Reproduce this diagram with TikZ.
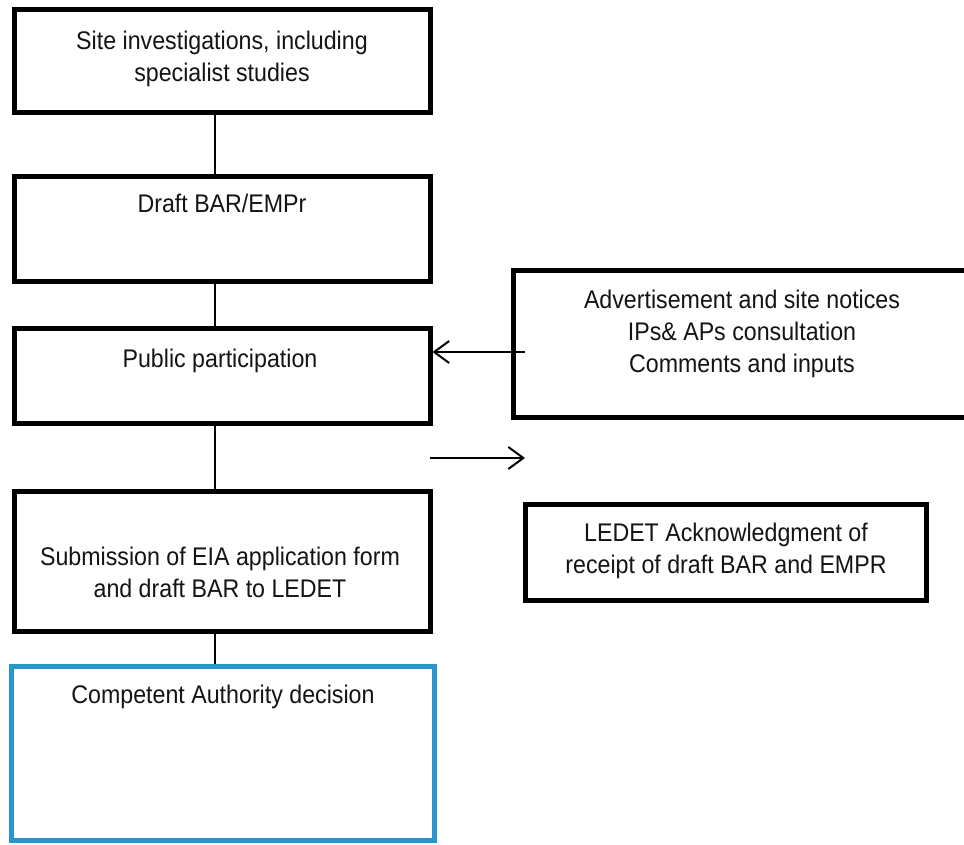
\documentclass[tikz,border=0pt]{standalone}
\usepackage{fontspec}
\setmainfont[FakeStretch=0.91]{Liberation Sans}
\usetikzlibrary{arrows.meta,calc}
\definecolor{frameblue}{RGB}{40,150,205}
\begin{document}
\begin{tikzpicture}[x=1pt,y=-1pt,
  box/.style={draw=black,line width=5pt,rectangle,inner sep=0pt},
  bluebox/.style={draw=frameblue,line width=5pt,rectangle,inner sep=0pt},
  txt/.style={font=\fontsize{25.5pt}{32pt}\selectfont,align=center,inner sep=0pt,text=black!92},
  conn/.style={line width=2pt,draw=black},
  arr/.style={line width=2pt,draw=black,-{Straight Barb[length=15pt,width=22pt,line width=2pt]}}]
\clip (0,0) rectangle (964,845);
\fill[white] (0,0) rectangle (964,845);
% boxes (centre, size between line centres)
\node[box,minimum width=416pt,minimum height=102.5pt] (b1) at (222,61.25) {};
\node[box,minimum width=416pt,minimum height=104.5pt] (b2) at (222,228.75) {};
\node[box,minimum width=416pt,minimum height=95pt] (b3) at (222,376) {};
\node[box,minimum width=416pt,minimum height=140pt] (b4) at (222,561.5) {};
\node[bluebox,minimum width=423pt,minimum height=173.5pt] (b5) at (223,753.25) {};
\node[box,minimum width=500pt,minimum height=147pt] (b6) at (763,343.5) {};
\node[box,minimum width=400.5pt,minimum height=96pt] (b7) at (725.75,552) {};
% texts
\node[txt] (t1) at (222,58.5) {Site investigations, including\\specialist studies};
\node[txt,anchor=base] (t2) at (222,213) {Draft BAR/EMPr};
\node[txt,anchor=base] (t3) at (220,367) {Public participation};
\node[txt] (t4) at (220,572) {Submission of EIA application form\\and draft BAR to LEDET};
\node[txt,anchor=base] (t5) at (223,703) {Competent Authority decision};
\node[txt] (t6) at (742,333.5) {Advertisement and site notices\\IPs\& APs consultation\\Comments and inputs};
\node[txt] (t7) at (726,550.5) {LEDET Acknowledgment of\\receipt of draft BAR and EMPR};
% connectors
\draw[conn] (b1.south -| 215,0) -- (b2.north -| 215,0);
\draw[conn] (b2.south -| 215,0) -- (b3.north -| 215,0);
\draw[conn] (b3.south -| 215,0) -- (b4.north -| 215,0);
\draw[conn] (b4.south -| 215,0) -- (b5.north -| 215,0);
\coordinate (a1s) at (525,352);
\draw[arr] (a1s) -- (a1s -| b3.east);
\coordinate (a2s) at (430,458);
\coordinate (a2e) at (525,458);
\draw[arr] (a2s) -- (a2e);
\end{tikzpicture}
\end{document}
